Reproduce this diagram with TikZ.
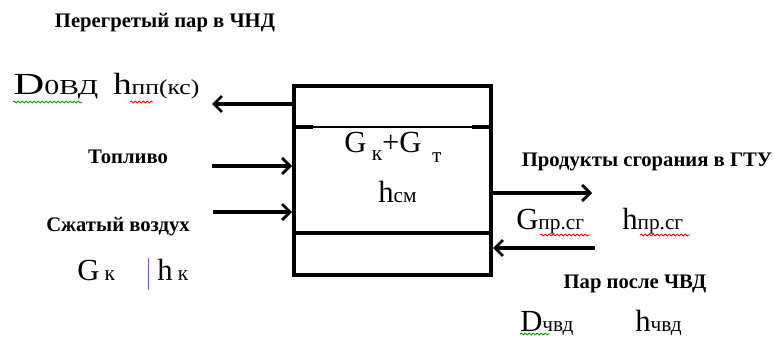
\documentclass[tikz,border=0pt]{standalone}
\usepackage{fontspec}
\setmainfont{Liberation Serif}
\usetikzlibrary{arrows.meta,decorations.pathmorphing}
\tikzset{
  flow/.style={line width=3pt,-{Straight Barb[length=6pt,width=12pt,line width=2pt]}},
  caption/.style={font=\bfseries\fontsize{15.5}{18}\selectfont,inner sep=0pt},
  symb/.style={anchor=base west,inner sep=0pt},
  spell/.style={decorate,decoration={snake,amplitude=0.7pt,segment length=3pt},line width=0.6pt}
}
\newcommand{\mainsym}[2]{{\fontsize{23}{26}\selectfont #1}{\fontsize{16}{19}\selectfont #2}}

\begin{document}
\begin{tikzpicture}[x=0.75pt,y=-0.75pt]
\useasboundingbox (0,0) rectangle (774,336);
% Mixing chamber
\node[draw,line width=3pt,minimum width=147.75pt,minimum height=141.75pt,inner sep=0pt] (block) at (392.5,180.5) {};
\coordinate (sepA) at (0,127);
\coordinate (sepB) at (0,233);
\draw[line width=1pt] (block.west |- sepA) -- (block.east |- sepA);
\draw[line width=3pt] (block.west |- sepA) -- ++(21,0);
\draw[line width=3pt] (block.east |- sepA) -- ++(-21,0);
\draw[line width=2.5pt] (block.west |- sepB) -- (block.east |- sepB);
\node[symb] (mix) at (344,152) {\mainsym{G}{\raisebox{-6pt}{ к}}{\fontsize{23}{26}\selectfont+}\mainsym{G}{\raisebox{-8pt}{\ \ т}}};
\node[symb] (hMix) at (378,202) {\mainsym{h}{см}};
% Superheated steam out
\coordinate (outL) at (212,104);
\draw[flow] (outL -| block.west) -- (outL);
\node[caption] (header) at (165,23) {Перегретый пар в ЧНД};
\node[symb] (dOut) at (13,94) {\scalebox{1.4}[1]{\mainsym{D}{0ВД}}};
\node[symb] (hOut) at (113,94) {\scalebox{1.2}[1]{\mainsym{h}{пп(кс)}}};
\draw[spell,green!60!black] (13,102) -- (82,102);
\draw[spell,red] (130,102) -- (153,102);
% Fuel in
\coordinate (fuelL) at (212,166);
\draw[flow] (fuelL) -- (fuelL -| block.west);
\node[caption] (fuel) at (128,157) {Топливо};
% Compressed air in
\coordinate (airL) at (213,212);
\draw[flow] (airL) -- (airL -| block.west);
\node[caption] (air) at (118,227) {Сжатый воздух};
\node[symb] (gAir) at (77,280) {\mainsym{G}{ к}};
\node[symb] (hAir) at (157,280) {\mainsym{h}{ к}};
\draw[blue!60,line width=0.6pt] (148,258) -- (148,290);
% Combustion products out
\coordinate (outR) at (592,193);
\draw[flow] (outR -| block.east) -- (outR);
\node[caption] (products) at (647,162) {Продукты сгорания в ГТУ};
\node[symb] (gGas) at (516,229) {\mainsym{G}{пр.сг}};
\node[symb] (hGas) at (622,229) {\mainsym{h}{пр.сг}};
\draw[spell,red] (540,235) -- (590,235);
\draw[spell,red] (640,235) -- (690,235);
% Steam after HP cylinder in
\coordinate (inR) at (595,248);
\draw[flow] (inR) -- (inR -| block.east);
\node[caption] (steam) at (635,284) {Пар после ЧВД};
\node[symb] (dSteam) at (520,331) {\mainsym{D}{чвд}};
\node[symb] (hSteam) at (635,331) {\mainsym{h}{чвд}};
\draw[spell,green!60!black] (520,334) -- (550,334);
\end{tikzpicture}
\end{document}
